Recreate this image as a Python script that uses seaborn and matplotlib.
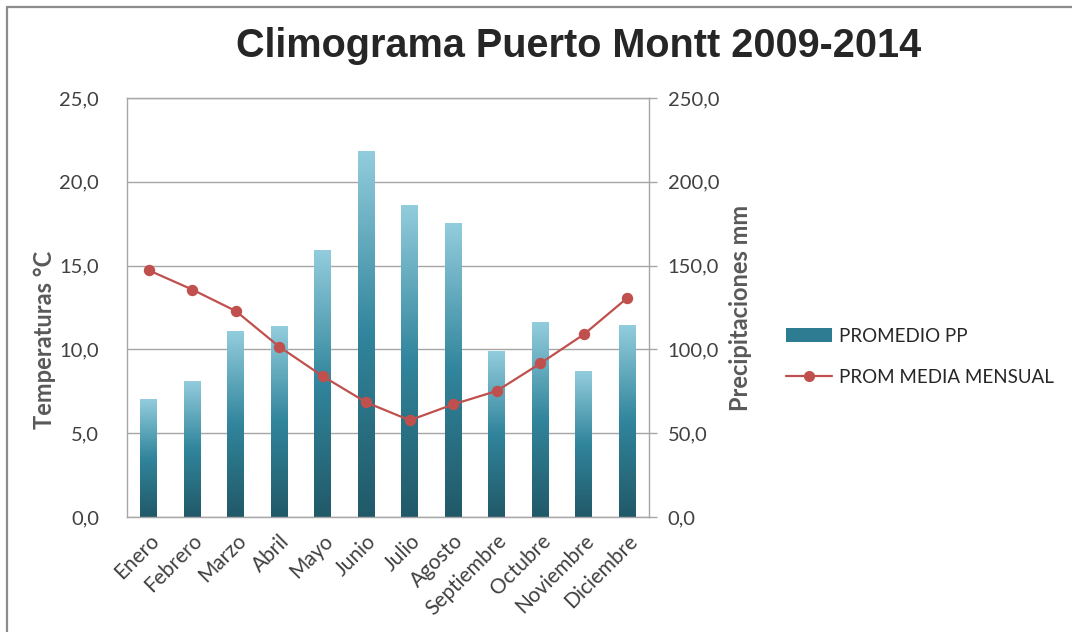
import numpy as np
import pandas as pd
import matplotlib
matplotlib.use("Agg")
import matplotlib.pyplot as plt
from matplotlib.colors import LinearSegmentedColormap
from matplotlib.patches import Patch, Rectangle
from matplotlib.lines import Line2D
from matplotlib.ticker import FuncFormatter, MultipleLocator
import seaborn as sns

# ---- data ----
months = ["Enero", "Febrero", "Marzo", "Abril", "Mayo", "Junio", "Julio",
          "Agosto", "Septiembre", "Octubre", "Noviembre", "Diciembre"]
precip_mm = [70.3, 81.2, 110.7, 113.9, 159.4, 218.4, 186.4, 175.4, 99.3, 116.3, 87.0, 114.5]
temp_c = [14.72, 13.57, 12.29, 10.16, 8.40, 6.84, 5.77, 6.72, 7.52, 9.16, 10.89, 13.07]
series_bar = "PROMEDIO PP"
series_line = "PROM MEDIA MENSUAL"
title = "Climograma Puerto Montt 2009-2014"
ylabel_left = "Temperaturas °C"
ylabel_right = "Precipitaciones mm"

df = pd.DataFrame({"mes": months, "pp": precip_mm, "t": temp_c})

sns.set_theme(style="white")
plt.rcParams["font.family"] = ["Lato", "DejaVu Sans"]

W, H = 1072, 632
fig = plt.figure(figsize=(W / 100, H / 100), dpi=100)
ax = fig.add_axes([127 / W, 1 - 517 / H, (649 - 127) / W, (517 - 98) / H])
ax2 = ax.twinx()

grid_c = "#A6A6A6"
text_c = "#404040"
label_c = "#595959"
red = "#C0504D"
fmt = FuncFormatter(lambda v, _: f"{v:.1f}".replace(".", ","))

# bars (precipitation, right scale)
sns.barplot(data=df, x="mes", y="pp", ax=ax, width=0.38, color="#31859C",
            saturation=1, errorbar=None, zorder=2)

cmap = LinearSegmentedColormap.from_list(
    "excel", [(0.0, "#215968"), (0.5, "#31859C"), (1.0, "#93CDDD")])
grad = np.linspace(0, 1, 256).reshape(-1, 1)
for p in list(ax.patches):
    x0, w, h = p.get_x(), p.get_width(), p.get_height()
    p.set_facecolor("none")
    p.set_edgecolor("none")
    im = ax.imshow(grad, extent=[x0, x0 + w, 0, h], origin="lower",
                   aspect="auto", cmap=cmap, zorder=2)
    im.set_clip_path(p)

# line (temperature, left scale)
sns.pointplot(data=df, x="mes", y="t", ax=ax2, color=red, markers="o",
              markersize=7, linewidth=1.6, errorbar=None)

# right axis (precipitation) formatting
ax.set_xlim(-0.5, 11.5)
ax.set_ylim(0, 250)
ax.yaxis.set_major_locator(MultipleLocator(50))
ax.yaxis.set_major_formatter(fmt)
ax.grid(axis="y", color=grid_c, lw=1, zorder=0)
ax.set_axisbelow(True)
ax.set_xlabel("")
ax.set_ylabel("")
ax.tick_params(axis="x", bottom=False, labelsize=15, labelcolor=text_c, pad=4)
for lab in ax.get_xticklabels():
    lab.set_rotation(45)
    lab.set_ha("right")
    lab.set_rotation_mode("anchor")
for s in ax.spines.values():
    s.set_color(grid_c)
    s.set_linewidth(1)

# left axis (temperature) formatting
ax2.set_xlim(-0.5, 11.5)
ax2.set_ylim(0, 25)
ax2.yaxis.set_major_locator(MultipleLocator(5))
ax2.yaxis.set_major_formatter(fmt)
ax2.set_xlabel("")
ax2.set_ylabel("")
ax2.tick_params(axis="x", bottom=False, labelbottom=False)
for s in ax2.spines.values():
    s.set_visible(False)

# put precipitation ticks on the right, temperature ticks on the left
ax.yaxis.set_ticks_position("right")
ax.tick_params(axis="y", left=False, labelleft=False, right=True, labelright=True,
               length=5.5, width=1, color=grid_c, labelsize=14.5, labelcolor=text_c, pad=8)
ax2.yaxis.set_ticks_position("left")
ax2.tick_params(axis="y", left=False, labelleft=True, right=False, labelright=False,
                labelsize=14.5, labelcolor=text_c, pad=14)

# axis labels
fig.text(45 / W, 1 - 340 / H, ylabel_left, rotation=90, ha="center", va="center",
         fontsize=17, fontweight="bold", color=label_c)
fig.text(740 / W, 1 - 308 / H, ylabel_right, rotation=90, ha="center", va="center",
         fontsize=17, fontweight="bold", color=label_c)

# title
fig.text(579 / W, 1 - 46 / H, title, ha="center", va="center", fontsize=28.5,
         fontweight="bold", color="#262626", family=["Liberation Sans", "DejaVu Sans"])

# legend
handles = [Patch(facecolor="#2E7C91", edgecolor="none"),
           Line2D([0], [0], color=red, lw=1.6, marker="o", markersize=7)]
fig.legend(handles, [series_bar, series_line], loc="center left",
           bbox_to_anchor=(778 / W, 1 - 357 / H), frameon=False, fontsize=13.5,
           labelcolor="#262626", handlelength=2.5, handleheight=0.8,
           labelspacing=1.3, handletextpad=0.35, borderaxespad=0)

# outer chart border
fig.add_artist(Rectangle((7 / W, -0.1), 1.2, 1.1 - 7 / H, transform=fig.transFigure,
                         fill=False, edgecolor="#8C8C8C", lw=1.6))

fig.savefig("out.png", dpi=100)
